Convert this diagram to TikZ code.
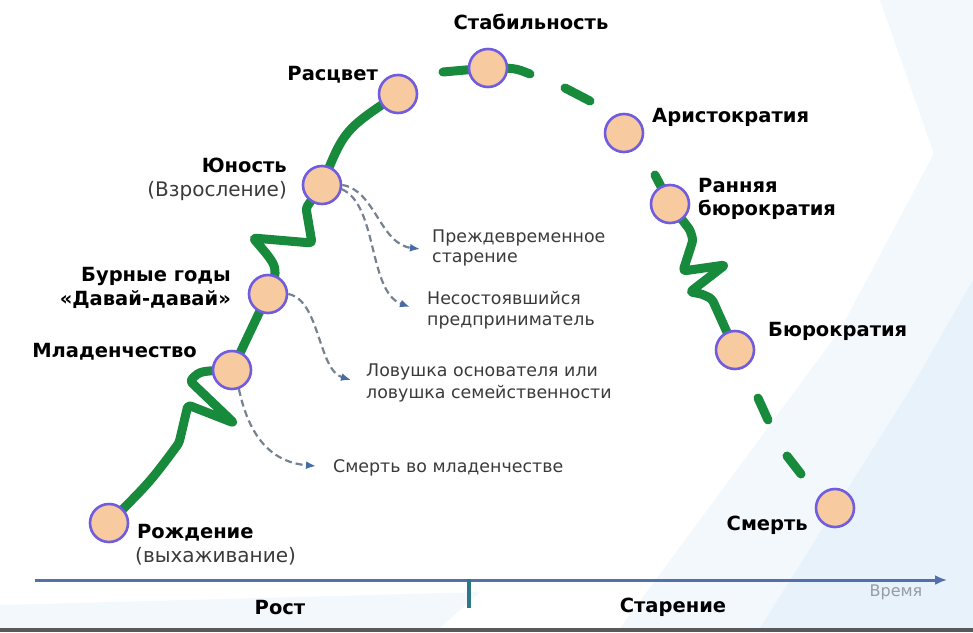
\documentclass[tikz,border=0pt]{standalone}
\usepackage{fontspec}
\setmainfont{DejaVu Sans}
\usetikzlibrary{arrows.meta}
\definecolor{lgreen}{RGB}{24,138,60}
\definecolor{peach}{RGB}{248,202,160}
\definecolor{ring}{RGB}{112,92,222}
\definecolor{dgray}{RGB}{118,130,146}
\definecolor{tipblue}{RGB}{70,108,165}
\definecolor{axisblue}{RGB}{84,112,172}
\definecolor{ticksteel}{RGB}{45,120,135}
\definecolor{bgA}{RGB}{243,248,253}
\definecolor{bgB}{RGB}{232,242,251}
\definecolor{txtgray}{RGB}{58,58,58}
\definecolor{timegray}{RGB}{150,155,165}
\tikzset{
  stage/.style={circle, draw=ring, fill=peach, line width=2.6pt, minimum size=38pt, inner sep=0pt},
  curve/.style={draw=lgreen, line width=9pt, line cap=round, line join=round},
  risk/.style={draw=dgray, line width=2.2pt, dash pattern=on 7pt off 4pt, -{Latex[length=10pt,width=8pt,color=tipblue]}},
  lbl/.style={font=\fontsize{19.5}{22}\selectfont\bfseries, text=black, inner sep=0pt},
  sub/.style={font=\fontsize{20}{22}\selectfont, text=txtgray, inner sep=0pt},
  note/.style={font=\fontsize{17.4}{20}\selectfont, text=txtgray, inner sep=0pt},
}
\begin{document}
\begin{tikzpicture}[x=1pt,y=-1pt]
\useasboundingbox (0,0) rectangle (973,632);
% background streaks
\fill[bgA] (620,628) -- (840,330) -- (973,80) -- (973,628) -- cycle;
\fill[bgB] (760,628) -- (910,390) -- (973,280) -- (973,628) -- cycle;
\fill[bgA] (880,0) -- (973,0) -- (973,230) -- (950,200) -- cycle;
\fill[bgA] (0,605) -- (480,592) -- (440,628) -- (0,628) -- cycle;
\fill[black!65] (0,628) rectangle (973,632);

% stage centres
\coordinate (cR) at (109,523);
\coordinate (cM) at (232,370);
\coordinate (cB) at (268,294);
\coordinate (cY) at (322,185);
\coordinate (cP) at (398,94);
\coordinate (cS) at (488,68);
\coordinate (cA) at (624,133);
\coordinate (cE) at (670,204);
\coordinate (cU) at (735,350);
\coordinate (cD) at (835,508);

% green life curve
\draw[curve, rounded corners=3pt] (cR) .. controls (150,482) .. (179,443) -- (188,405) -- (234,423) -- (190,381) .. controls (200,371) .. (cM);
\draw[curve] (cM) -- (cB);
\draw[curve, rounded corners=3pt] (cB) .. controls (279,268) .. (253,238) -- (312,243) -- (306,208) -- (cY);
\draw[curve] (cY) .. controls (344,130) .. (cP);
\draw[curve] (443,72) -- (cS);
\draw[curve] (cS) .. controls (515,68) .. (530,74);
\draw[curve] (565,88) -- (590,101);
\draw[curve] (655,175) -- (cE);
\draw[curve, rounded corners=3pt] (cE) -- (690,230) -- (693,240) -- (683,271) -- (725,265) -- (690,292) .. controls (702,294) .. (712,299) -- (cU);
\draw[curve] (758,398) -- (768,420);
\draw[curve] (787,456) -- (801,474);

% stage circles
\node[stage] (R) at (cR) {};
\node[stage] (M) at (cM) {};
\node[stage] (B) at (cB) {};
\node[stage] (Y) at (cY) {};
\node[stage] (P) at (cP) {};
\node[stage] (S) at (cS) {};
\node[stage] (A) at (cA) {};
\node[stage] (E) at (cE) {};
\node[stage] (U) at (cU) {};
\node[stage] (D) at (cD) {};

% risk arrows
\coordinate (t1) at (420,249);
\coordinate (t2) at (410,307);
\coordinate (t3) at (351,380);
\coordinate (t4) at (316,466);
\draw[risk] (Y.east) .. controls (375,190) and (380,244) .. (t1);
\draw[risk] (Y.-12) .. controls (378,205) and (368,292) .. (t2);
\draw[risk] (B.east) .. controls (320,300) and (318,370) .. (t3);
\draw[risk] (M.-70) .. controls (248,432) and (268,462) .. (t4);

% stage labels
\node[lbl, anchor=west] at (137,533) {Рождение};
\node[sub, anchor=west] at (135,556) {(выхаживание)};
\node[lbl, anchor=east] at (197,352) {Младенчество};
\node[lbl, anchor=east] at (231,276) {Бурные годы};
\node[lbl, anchor=east] at (231,300) {«Давай-давай»};
\node[lbl, anchor=east] at (287,165) {Юность};
\node[sub, anchor=east] at (287,191) {(Взросление)};
\node[lbl, anchor=east] at (378,75) {Расцвет};
\node[lbl] at (531,22) {Стабильность};
\node[lbl, anchor=west] at (652,117) {Аристократия};
\node[lbl, anchor=west] at (698,186) {Ранняя};
\node[lbl, anchor=west] at (698,210) {бюрократия};
\node[lbl, anchor=west] at (768,331) {Бюрократия};
\node[lbl, anchor=east] at (808,525) {Смерть};

% risk notes
\node[note, anchor=west] at (432,238) {Преждевременное};
\node[note, anchor=west] at (432,259) {старение};
\node[note, anchor=west] at (427,298) {Несостоявшийся};
\node[note, anchor=west] at (427,322) {предприниматель};
\node[note, anchor=west] at (366,372) {Ловушка основателя или};
\node[note, anchor=west] at (366,394) {ловушка семейственности};
\node[note, anchor=west] at (333,468) {Смерть во младенчестве};

% time axis
\coordinate (ax0) at (35,580);
\coordinate (ax1) at (947,580);
\draw[axisblue, line width=3pt, -{Latex[length=12pt,width=10pt]}] (ax0) -- (ax1);
\coordinate (tk0) at (469,579);
\coordinate (tk1) at (469,608);
\draw[ticksteel, line width=4pt] (tk0) -- (tk1);
\node[lbl] at (280,608) {Рост};
\node[lbl] at (673,607) {Старение};
\node[font=\fontsize{16}{18}\selectfont, text=timegray, inner sep=0pt] at (896,592) {Время};
\end{tikzpicture}
\end{document}
